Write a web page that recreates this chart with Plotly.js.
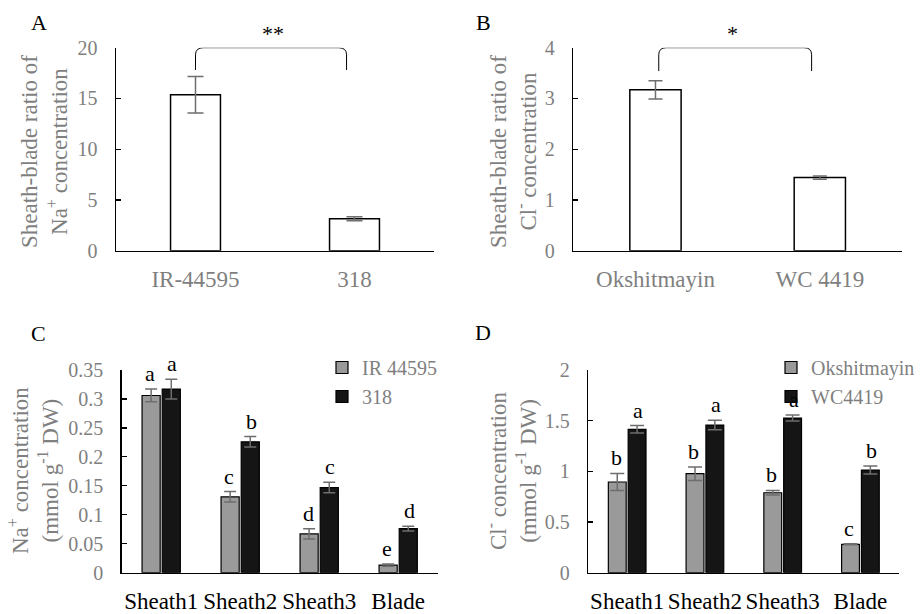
<!DOCTYPE html>
<html>
<head>
<meta charset="utf-8">
<script src="https://cdn.plot.ly/plotly-3.0.1.min.js"></script>
<style>html,body{margin:0;padding:0;background:#fff;}#chart{width:921px;height:614px;}</style>
</head>
<body>
<div id="chart"></div>
<script>
// Panel A: sheath-blade ratio of Na+ concentration
const catsA = ['IR-44595', '318'];
const valsA = [15.37, 3.15];
const errA = [1.8, 0.2];

// Panel B: sheath-blade ratio of Cl- concentration
const catsB = ['Okshitmayin', 'WC 4419'];
const valsB = [3.17, 1.44];
const errB = [0.18, 0.03];

// Panels C and D: tissues
const tissues = ['Sheath1', 'Sheath2', 'Sheath3', 'Blade'];

// Panel C: Na+ concentration
const naIR = [0.306, 0.131, 0.067, 0.013];
const naIRErr = [0.011, 0.009, 0.009, 0.002];
const naIRLetters = ['a', 'c', 'd', 'e'];
const na318 = [0.317, 0.226, 0.147, 0.076];
const na318Err = [0.017, 0.009, 0.009, 0.004];
const na318Letters = ['a', 'b', 'c', 'd'];

// Panel D: Cl- concentration
const clOk = [0.895, 0.977, 0.789, 0.28];
const clOkErr = [0.085, 0.067, 0.023, 0.005];
const clOkLetters = ['b', 'b', 'b', 'c'];
const clWC = [1.415, 1.457, 1.526, 1.013];
const clWCErr = [0.037, 0.046, 0.03, 0.04];
const clWCLetters = ['a', 'a', 'a', 'b'];

// Axis titles
const titleA = 'Sheath-blade ratio of<br>Na<sup>+</sup> concentration';
const titleB = 'Sheath-blade ratio of<br>Cl<sup>-</sup> concentration';
const titleC = 'Na<sup>+</sup> concentration<br>(mmol g<sup>-1</sup> DW)';
const titleD = 'Cl<sup>-</sup> concentration<br>(mmol g<sup>-1</sup> DW)';

const FONT = 'Liberation Serif';
const GRAYTXT = '#7f7f7f';
const BAR_GRAY = '#9a9a9a';
const BAR_BLACK = '#151515';
const ERR_COL = '#6e6e6e';

function errObj(arr, w) {
  return {type: 'data', array: arr, visible: true, color: ERR_COL, thickness: 1.5, width: w};
}

const traces = [
  {type: 'bar', x: catsA, y: valsA, xaxis: 'x', yaxis: 'y', width: 0.314,
   marker: {color: '#ffffff', line: {color: '#000', width: 1.5}},
   error_y: errObj(errA, 8), showlegend: false, hoverinfo: 'x+y'},
  {type: 'bar', x: catsB, y: valsB, xaxis: 'x2', yaxis: 'y2', width: 0.312,
   marker: {color: '#ffffff', line: {color: '#000', width: 1.5}},
   error_y: errObj(errB, 7), showlegend: false, hoverinfo: 'x+y'},
  {type: 'bar', name: 'IR 44595', x: tissues, y: naIR, xaxis: 'x3', yaxis: 'y3', legend: 'legend',
   marker: {color: BAR_GRAY, line: {color: '#000', width: 1.2}}, error_y: errObj(naIRErr, 6)},
  {type: 'bar', name: '318', x: tissues, y: na318, xaxis: 'x3', yaxis: 'y3', legend: 'legend',
   marker: {color: BAR_BLACK, line: {color: '#000', width: 1.2}}, error_y: errObj(na318Err, 6)},
  {type: 'bar', name: 'Okshitmayin', x: tissues, y: clOk, xaxis: 'x4', yaxis: 'y4', legend: 'legend2',
   marker: {color: BAR_GRAY, line: {color: '#000', width: 1.2}}, error_y: errObj(clOkErr, 7)},
  {type: 'bar', name: 'WC4419', x: tissues, y: clWC, xaxis: 'x4', yaxis: 'y4', legend: 'legend2',
   marker: {color: BAR_BLACK, line: {color: '#000', width: 1.2}}, error_y: errObj(clWCErr, 7)}
];

function yax(domain, range, dtick, anchor) {
  return {
    domain: domain, range: range, dtick: dtick, anchor: anchor,
    showline: true, linecolor: '#000', linewidth: 1.5,
    ticks: 'inside', ticklen: 5, tickcolor: '#000', tickwidth: 1.2,
    showgrid: false, zeroline: false, fixedrange: true,
    tickfont: {family: FONT, size: 20, color: GRAYTXT},
    ticklabelstandoff: 13
  };
}
function xax(domain, anchor, color) {
  return {
    domain: domain, anchor: anchor, type: 'category',
    showline: true, linecolor: '#000', linewidth: 1.5,
    ticks: '', showgrid: false, zeroline: false, fixedrange: true,
    tickfont: {family: FONT, size: 23, color: color},
    ticklabelstandoff: 7
  };
}

const W = 921, H = 614;
const fx = p => p / W;
const fy = p => 1 - p / H;

const annotations = [];
function panelLabel(t, x, y) {
  annotations.push({text: t, xref: 'paper', yref: 'paper', x: fx(x), y: fy(y),
    xanchor: 'center', yanchor: 'middle', showarrow: false,
    font: {family: FONT, size: 22, color: '#000'}});
}
panelLabel('A', 39, 22);
panelLabel('B', 483, 22);
panelLabel('C', 38, 333);
panelLabel('D', 483, 332);

function yTitle(t, x, y) {
  annotations.push({text: t, xref: 'paper', yref: 'paper', x: fx(x), y: fy(y),
    xanchor: 'center', yanchor: 'middle', showarrow: false, textangle: -90,
    font: {family: FONT, size: 23, color: GRAYTXT}});
}
yTitle(titleA, 44, 152);
yTitle(titleB, 513, 152);
yTitle(titleC, 33, 471);
yTitle(titleD, 511, 471);

function letters(xa, ya, cats, vals, errs, labs, shift) {
  cats.forEach((c, i) => {
    annotations.push({text: labs[i], xref: xa, yref: ya, x: c, y: vals[i] + errs[i],
      xanchor: 'center', yanchor: 'bottom', xshift: shift, yshift: 1, showarrow: false,
      font: {family: FONT, size: 22, color: '#000'}});
  });
}
letters('x3', 'y3', tissues, naIR, naIRErr, naIRLetters, -11);
letters('x3', 'y3', tissues, na318, na318Err, na318Letters, 11);
letters('x4', 'y4', tissues, clOk, clOkErr, clOkLetters, -11);
letters('x4', 'y4', tissues, clWC, clWCErr, clWCLetters, 11);

annotations.push({text: '**', xref: 'x', yref: 'paper', x: 0.49, y: fy(33), showarrow: false,
  xanchor: 'center', yanchor: 'middle', font: {family: FONT, size: 22, color: '#000'}});
annotations.push({text: '*', xref: 'x2', yref: 'paper', x: 0.47, y: fy(33), showarrow: false,
  xanchor: 'center', yanchor: 'middle', font: {family: FONT, size: 22, color: '#000'}});

const shapes = [
  {type: 'path', xref: 'x', yref: 'y', line: {color: '#000', width: 1},
   path: 'M 0,17.8 L 0,19.3 Q 0,20 0.05,20 L 0.9,20 Q 0.95,20 0.95,19.3 L 0.95,17.8'},
  {type: 'path', xref: 'x2', yref: 'y2', line: {color: '#000', width: 1},
   path: 'M 0.02,3.54 L 0.02,3.86 Q 0.02,4 0.065,4 L 0.905,4 Q 0.95,4 0.95,3.86 L 0.95,3.54'}
];

const legendBase = {
  xref: 'paper', yref: 'paper', xanchor: 'left', yanchor: 'top',
  bgcolor: 'rgba(0,0,0,0)', borderwidth: 0, itemwidth: 30, tracegroupgap: 0,
  font: {family: FONT, size: 20, color: GRAYTXT}
};

const layout = {
  width: W, height: H,
  font: {family: FONT},
  margin: {l: 0, r: 0, t: 0, b: 0, autoexpand: false},
  paper_bgcolor: '#fff', plot_bgcolor: 'rgba(0,0,0,0)',
  barmode: 'group', bargap: 0.49, bargroupgap: 0.1,
  showlegend: true,
  legend: Object.assign({}, legendBase, {x: fx(322), y: fy(348)}),
  legend2: Object.assign({}, legendBase, {x: fx(771), y: fy(348)}),
  xaxis: xax([fx(116), fx(434)], 'y', GRAYTXT),
  yaxis: yax([fy(250.7), fy(47.7)], [0, 20], 5, 'x'),
  xaxis2: xax([fx(573.3), fx(902)], 'y2', GRAYTXT),
  yaxis2: yax([fy(250.7), fy(47.7)], [0, 4], 1, 'x2'),
  xaxis3: xax([fx(121.7), fx(437.7)], 'y3', '#000'),
  yaxis3: yax([fy(572.7), fy(370)], [0, 0.35], 0.05, 'x3'),
  xaxis4: xax([fx(588.3), fx(899.3)], 'y4', '#000'),
  yaxis4: yax([fy(572.7), fy(370)], [0, 2], 0.5, 'x4'),
  annotations: annotations,
  shapes: shapes
};

Plotly.newPlot('chart', traces, layout, {staticPlot: true, displayModeBar: false});
</script>
</body>
</html>
